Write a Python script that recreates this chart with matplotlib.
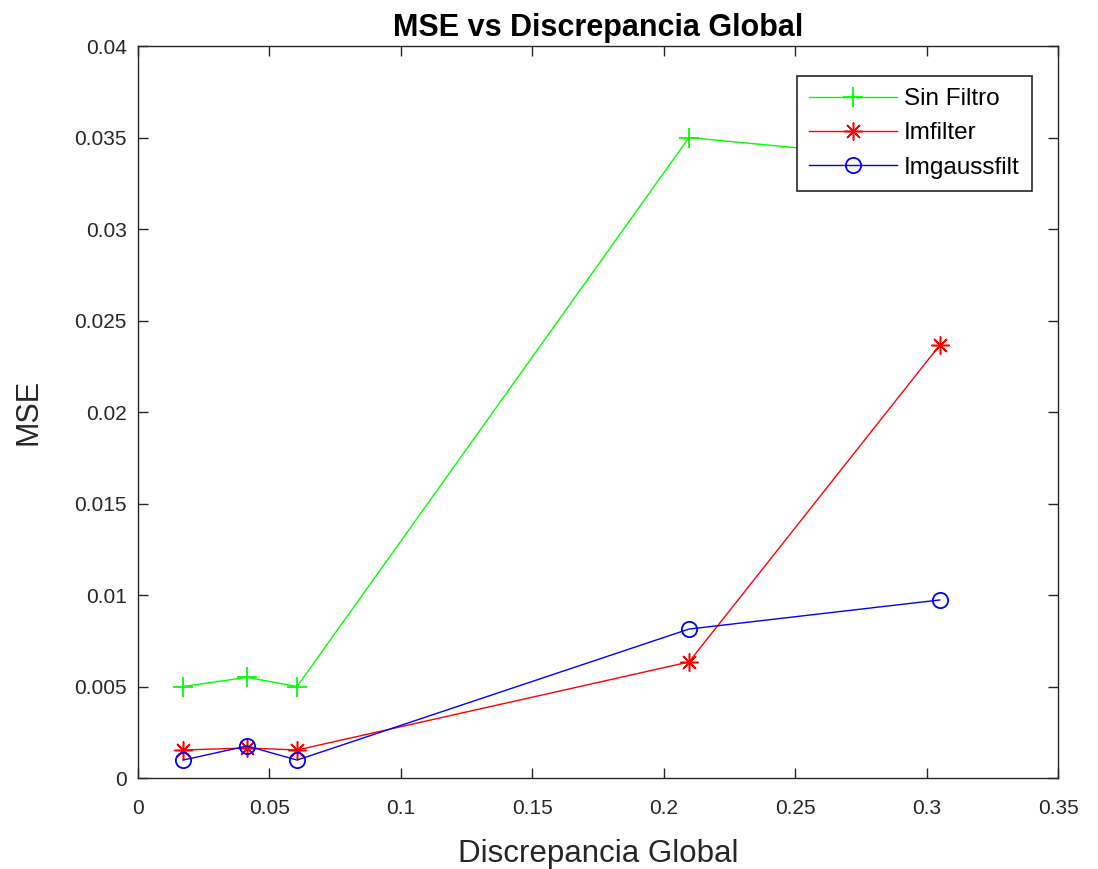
import matplotlib.pyplot as plt

plt.rcParams['font.family'] = ['Liberation Sans', 'DejaVu Sans']

# data
disc = [0.0171, 0.0415, 0.0605, 0.2096, 0.305]
sin_filtro = [0.0050, 0.0055, 0.0050, 0.0350, 0.0337]
imfilter = [0.00153, 0.00164, 0.00153, 0.00634, 0.02366]
imgaussfilt = [0.00098, 0.00175, 0.00098, 0.00814, 0.00973]

fig = plt.figure(figsize=(10.98, 8.69), dpi=100)
ax = fig.add_axes([0.1257, 0.1047, 0.8379, 0.8423])

ax.plot(disc, sin_filtro, '-+', color=(0, 1, 0), linewidth=1, markersize=14, markeredgewidth=1.3, label='Sin Filtro')
ax.plot(disc, imfilter, '-', marker=(8, 2, 0), color=(1, 0, 0), linewidth=1, markersize=13,
        markeredgewidth=1.1, label='Imfilter')
ax.plot(disc, imgaussfilt, '-o', color=(0, 0, 1), linewidth=1, markersize=11, markeredgewidth=1.3,
        markerfacecolor='none', label='Imgaussfilt')

ax.set_xlim(0, 0.35)
ax.set_ylim(0, 0.04)
ax.set_xticks([0, 0.05, 0.1, 0.15, 0.2, 0.25, 0.3, 0.35])
ax.set_xticklabels(['0', '0.05', '0.1', '0.15', '0.2', '0.25', '0.3', '0.35'])
ax.set_yticks([0, 0.005, 0.01, 0.015, 0.02, 0.025, 0.03, 0.035, 0.04])
ax.set_yticklabels(['0', '0.005', '0.01', '0.015', '0.02', '0.025', '0.03', '0.035', '0.04'])
ax.tick_params(direction='in', top=True, right=True, length=7, width=1, labelsize=15,
               colors='#262626')
ax.tick_params(axis='x', pad=15)
ax.tick_params(axis='y', pad=8)
for s in ax.spines.values():
    s.set_color('#262626')
    s.set_linewidth(1)

ax.set_xlabel('Discrepancia Global', fontsize=22.5, color='#262626', labelpad=15)
ax.set_ylabel('MSE', fontsize=22, color='#262626', labelpad=22)
ax.set_title('MSE vs Discrepancia Global', fontsize=22, fontweight='bold', pad=7)

leg = ax.legend(loc='upper right', bbox_to_anchor=(0.9717, 0.959), fontsize=17.5, fancybox=False,
                edgecolor='#262626', framealpha=1, handlelength=3.6, borderpad=0.5,
                labelspacing=0.5, handletextpad=0.3, borderaxespad=0)
leg.get_frame().set_linewidth(1.2)

fig.savefig('out.png', dpi=100)
